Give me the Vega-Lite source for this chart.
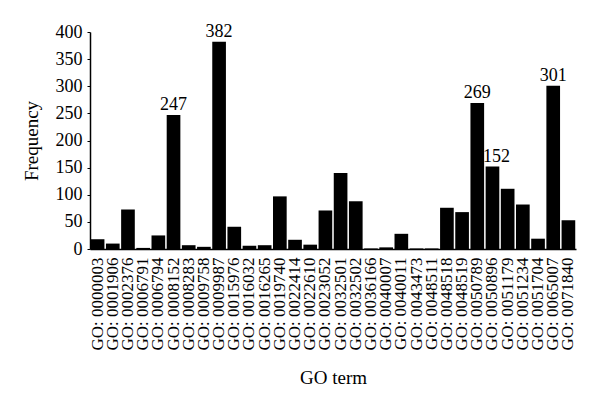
{
  "$schema": "https://vega.github.io/schema/vega-lite/v6.json",
  "width": 486,
  "height": 217,
  "autosize": {"type": "none"},
  "padding": {"left": 90, "top": 32, "right": 24, "bottom": 153},
  "background": "white",
  "config": {
    "view": {"stroke": null},
    "font": "Liberation Serif"
  },
  "data": {
    "values": [
      {"term": "GO: 0000003", "freq": 18},
      {"term": "GO: 0001906", "freq": 10},
      {"term": "GO: 0002376", "freq": 73},
      {"term": "GO: 0006791", "freq": 2},
      {"term": "GO: 0006794", "freq": 25},
      {"term": "GO: 0008152", "freq": 247},
      {"term": "GO: 0008283", "freq": 7},
      {"term": "GO: 0009758", "freq": 4},
      {"term": "GO: 0009987", "freq": 382},
      {"term": "GO: 0015976", "freq": 41},
      {"term": "GO: 0016032", "freq": 6},
      {"term": "GO: 0016265", "freq": 7},
      {"term": "GO: 0019740", "freq": 97},
      {"term": "GO: 0022414", "freq": 17},
      {"term": "GO: 0022610", "freq": 8},
      {"term": "GO: 0023052", "freq": 71},
      {"term": "GO: 0032501", "freq": 140},
      {"term": "GO: 0032502", "freq": 88},
      {"term": "GO: 0036166", "freq": 1},
      {"term": "GO: 0040007", "freq": 3},
      {"term": "GO: 0040011", "freq": 28},
      {"term": "GO: 0043473", "freq": 1},
      {"term": "GO: 0048511", "freq": 1},
      {"term": "GO: 0048518", "freq": 76},
      {"term": "GO: 0048519", "freq": 68},
      {"term": "GO: 0050789", "freq": 269},
      {"term": "GO: 0050896", "freq": 152},
      {"term": "GO: 0051179", "freq": 111},
      {"term": "GO: 0051234", "freq": 82},
      {"term": "GO: 0051704", "freq": 19},
      {"term": "GO: 0065007", "freq": 301},
      {"term": "GO: 0071840", "freq": 53}
    ]
  },
  "encoding": {
    "x": {
      "field": "term",
      "type": "nominal",
      "sort": null,
      "scale": {"paddingInner": 0.1, "paddingOuter": 0.05},
      "axis": {
        "title": "GO term",
        "titleFont": "Liberation Serif",
        "titleFontSize": 19,
        "titleFontWeight": "normal",
        "titleColor": "black",
        "titlePadding": 18,
        "labelAngle": -90,
        "labelFont": "Liberation Serif",
        "labelFontSize": 17,
        "labelColor": "black",
        "labelPadding": 8,
        "ticks": false,
        "domainColor": "black",
        "domainWidth": 1.5
      }
    },
    "y": {
      "field": "freq",
      "type": "quantitative",
      "scale": {"domain": [0, 400]},
      "axis": {
        "title": "Frequency",
        "titleFont": "Liberation Serif",
        "titleFontSize": 19,
        "titleFontWeight": "normal",
        "titleColor": "black",
        "titlePadding": 14,
        "values": [0, 50, 100, 150, 200, 250, 300, 350, 400],
        "labelFont": "Liberation Serif",
        "labelFontSize": 18,
        "labelColor": "black",
        "labelPadding": 5,
        "ticks": true,
        "tickSize": 3,
        "tickColor": "black",
        "grid": false,
        "domainColor": "black",
        "domainWidth": 1.5
      }
    }
  },
  "layer": [
    {"mark": {"type": "bar", "color": "black"}},
    {
      "transform": [{"filter": "datum.freq >= 150 && datum.freq != 152"}],
      "mark": {"type": "text", "baseline": "bottom", "dy": -1, "fontSize": 18, "font": "Liberation Serif", "color": "black"},
      "encoding": {"text": {"field": "freq", "type": "quantitative"}}
    },
    {
      "transform": [{"filter": "datum.freq == 152"}],
      "mark": {"type": "text", "baseline": "bottom", "dy": -1, "dx": 4, "fontSize": 18, "font": "Liberation Serif", "color": "black"},
      "encoding": {"text": {"field": "freq", "type": "quantitative"}}
    }
  ]
}
